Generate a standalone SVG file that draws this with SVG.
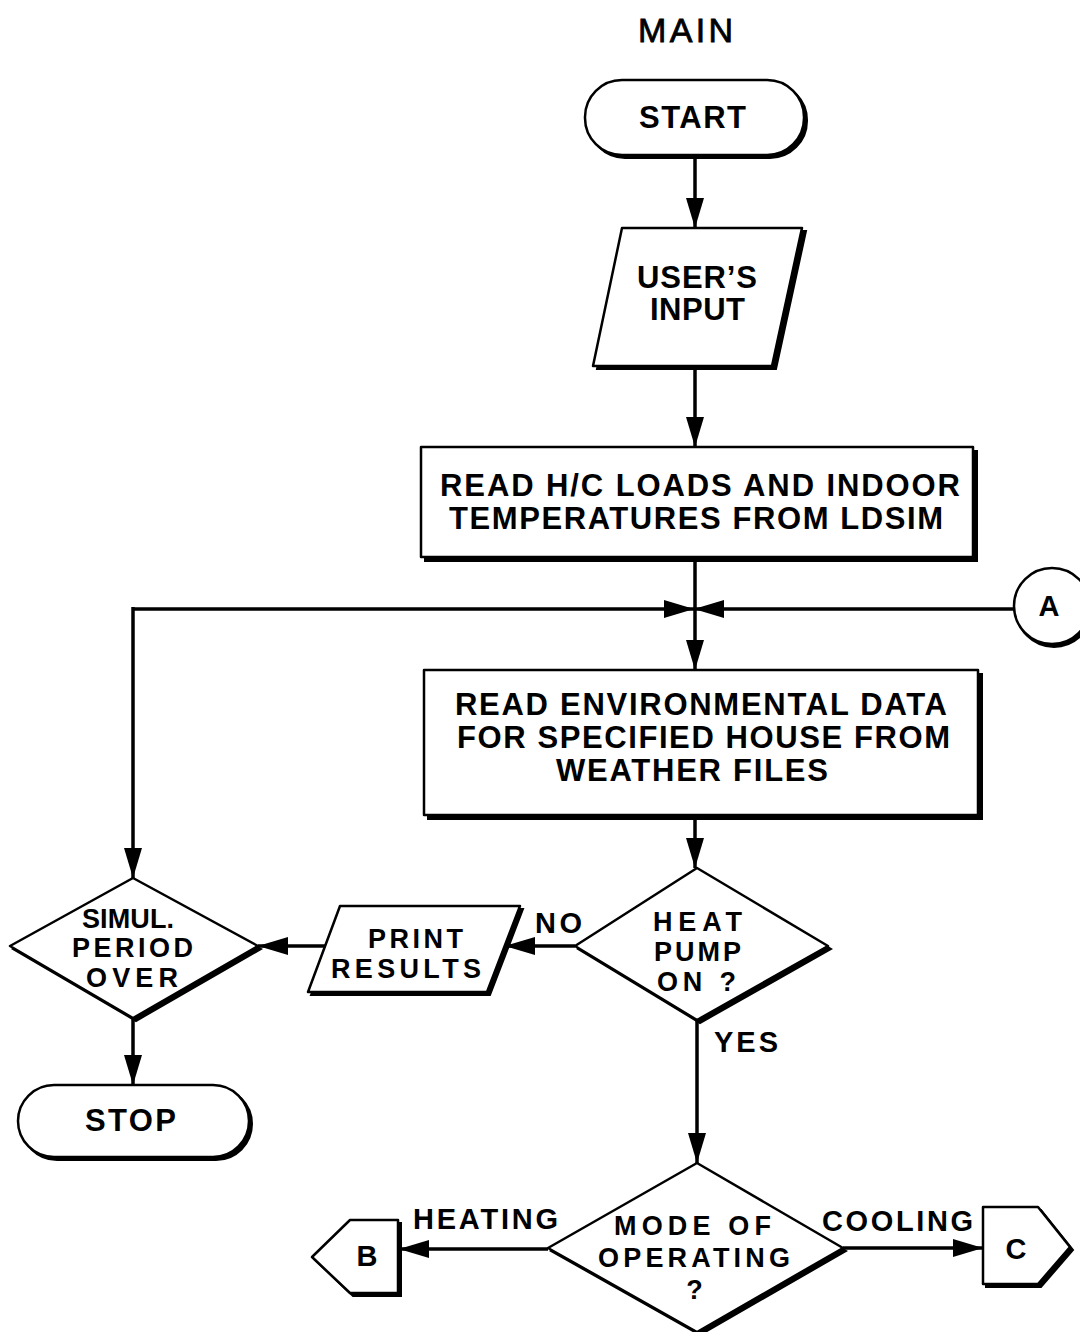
<svg xmlns="http://www.w3.org/2000/svg" width="1080" height="1332" viewBox="0 0 1080 1332">
<style>
  .bg{fill:#ffffff}
  .sh{fill:#000000;stroke:#000000;stroke-width:2}
  .nd{fill:#ffffff;stroke:#000000;stroke-width:2.5;stroke-linejoin:round}
  .ln{fill:none;stroke:#000000;stroke-width:3.5}
  .tx{font-family:"Liberation Sans",Arial,Helvetica,sans-serif;font-size:31px;font-weight:bold;fill:#000000;text-anchor:middle}
  .sm{font-family:"Liberation Sans",Arial,Helvetica,sans-serif;font-size:27px;font-weight:bold;fill:#000000;text-anchor:middle}
  .lb{font-family:"Liberation Sans",Arial,Helvetica,sans-serif;font-size:29px;font-weight:bold;fill:#000000;text-anchor:middle}
  .ti{font-family:"Liberation Sans",Arial,Helvetica,sans-serif;font-size:34px;font-weight:normal;fill:#000000;stroke:#000000;stroke-width:0.8;text-anchor:middle}
</style>
<defs>
  <marker id="ah" markerUnits="userSpaceOnUse" markerWidth="30" markerHeight="18" refX="30" refY="9" orient="auto">
    <path d="M0,0 L30,9 L0,18 Z" fill="#000000"/>
  </marker>
</defs>
<rect class="bg" x="0" y="0" width="1080" height="1332"/>

<text class="ti" x="685.5" y="42" textLength="95" lengthAdjust="spacing">MAIN</text>

<g id="connectors">
  <line class="ln" x1="695" y1="157" x2="695" y2="228" marker-end="url(#ah)"/>
  <line class="ln" x1="695" y1="366" x2="695" y2="447" marker-end="url(#ah)"/>
  <line class="ln" x1="695" y1="557" x2="695" y2="670" marker-end="url(#ah)"/>
  <line class="ln" x1="133" y1="609" x2="694" y2="609" marker-end="url(#ah)"/>
  <line class="ln" x1="1014" y1="609" x2="694" y2="609" marker-end="url(#ah)"/>
  <line class="ln" x1="133" y1="607" x2="133" y2="878" marker-end="url(#ah)"/>
  <line class="ln" x1="695" y1="815" x2="695" y2="868" marker-end="url(#ah)"/>
  <line class="ln" x1="575" y1="946" x2="505" y2="946" marker-end="url(#ah)"/>
  <line class="ln" x1="325" y1="946" x2="258" y2="946" marker-end="url(#ah)"/>
  <line class="ln" x1="133" y1="1018" x2="133" y2="1085" marker-end="url(#ah)"/>
  <line class="ln" x1="697" y1="1020" x2="697" y2="1163" marker-end="url(#ah)"/>
  <line class="ln" x1="548" y1="1249" x2="399" y2="1249" marker-end="url(#ah)"/>
  <line class="ln" x1="843" y1="1248" x2="983" y2="1248" marker-end="url(#ah)"/>
</g>

<g id="start">
  <rect class="sh" x="588" y="83" width="219" height="75" rx="37"/>
  <rect class="nd" x="585" y="80" width="219" height="75" rx="37"/>
  <text class="tx" x="692.5" y="128" textLength="107" lengthAdjust="spacing">START</text>
</g>

<g id="user-input">
  <polygon class="sh" points="626,231 806,231 776,369 597,369"/>
  <polygon class="nd" points="622,228 802,228 772,366 593,366"/>
  <text class="tx" x="697" y="288" textLength="120" lengthAdjust="spacing">USER’S</text>
  <text class="tx" x="697.5" y="320" textLength="95" lengthAdjust="spacing">INPUT</text>
</g>

<g id="read-loads">
  <rect class="sh" x="425" y="451" width="552" height="110"/>
  <rect class="nd" x="421" y="447" width="552" height="110"/>
  <text class="tx" x="700" y="496" textLength="520" lengthAdjust="spacing">READ H/C LOADS AND INDOOR</text>
  <text class="tx" x="696" y="529" textLength="494" lengthAdjust="spacing">TEMPERATURES FROM LDSIM</text>
</g>

<g id="connector-a">
  <circle class="sh" cx="1054" cy="609" r="38"/>
  <circle class="nd" cx="1052" cy="606" r="38"/>
  <text class="lb" x="1049" y="616" font-size="27">A</text>
</g>

<g id="read-environment">
  <rect class="sh" x="428" y="674" width="554" height="145"/>
  <rect class="nd" x="424" y="670" width="554" height="145"/>
  <text class="tx" x="701" y="715" textLength="492" lengthAdjust="spacing">READ ENVIRONMENTAL DATA</text>
  <text class="tx" x="703.5" y="748" textLength="493" lengthAdjust="spacing">FOR SPECIFIED HOUSE FROM</text>
  <text class="tx" x="692" y="781" textLength="272" lengthAdjust="spacing">WEATHER FILES</text>
</g>

<g id="heat-pump">
  <polygon class="sh" points="700,871 831,949 700,1023 578,949"/>
  <polygon class="nd" points="697,868 828,946 697,1020 575,946"/>
  <text class="sm" x="697.5" y="931" textLength="89" lengthAdjust="spacing">HEAT</text>
  <text class="sm" x="697.5" y="961" textLength="87" lengthAdjust="spacing">PUMP</text>
  <text class="sm" x="696.5" y="991" textLength="79" lengthAdjust="spacing">ON ?</text>
</g>
<text class="lb" x="558.5" y="933" textLength="47" lengthAdjust="spacing">NO</text>
<text class="lb" x="746" y="1052" textLength="64" lengthAdjust="spacing">YES</text>

<g id="print-results">
  <polygon class="sh" points="343,909 523,909 490,995 311,995"/>
  <polygon class="nd" points="340,906 520,906 487,992 308,992"/>
  <text class="sm" x="415.5" y="948" textLength="95" lengthAdjust="spacing">PRINT</text>
  <text class="sm" x="406" y="978" textLength="150" lengthAdjust="spacing">RESULTS</text>
</g>

<g id="simul-period">
  <polygon class="sh" points="136,881 261,949 136,1021 13,949"/>
  <polygon class="nd" points="133,878 258,946 133,1018 10,946"/>
  <text class="sm" x="128" y="928" textLength="92" lengthAdjust="spacing">SIMUL.</text>
  <text class="sm" x="132.5" y="957" textLength="121" lengthAdjust="spacing">PERIOD</text>
  <text class="sm" x="132" y="987" textLength="92" lengthAdjust="spacing">OVER</text>
</g>

<g id="stop">
  <rect class="sh" x="21" y="1088" width="231" height="72" rx="36"/>
  <rect class="nd" x="18" y="1085" width="231" height="72" rx="36"/>
  <text class="tx" x="130.5" y="1131" textLength="91" lengthAdjust="spacing">STOP</text>
</g>

<g id="mode">
  <polygon class="sh" points="700,1166 846,1251 700,1335 551,1251"/>
  <polygon class="nd" points="697,1163 843,1248 697,1332 548,1248"/>
  <text class="sm" x="692.5" y="1235" textLength="157" lengthAdjust="spacing">MODE OF</text>
  <text class="sm" x="694" y="1267" textLength="192" lengthAdjust="spacing">OPERATING</text>
  <text class="sm" x="694.5" y="1299">?</text>
</g>
<text class="lb" x="485.5" y="1229" textLength="145" lengthAdjust="spacing">HEATING</text>
<text class="lb" x="897.5" y="1231" textLength="151" lengthAdjust="spacing">COOLING</text>

<g id="connector-b">
  <polygon class="sh" points="315,1260 353,1223 401,1223 401,1296 353,1296"/>
  <polygon class="nd" points="312,1257 350,1220 398,1220 398,1293 350,1293"/>
  <text class="lb" x="367" y="1266" font-size="27">B</text>
</g>

<g id="connector-c">
  <polygon class="sh" points="986,1210 1041,1210 1073,1250 1041,1287 986,1287"/>
  <polygon class="nd" points="983,1207 1038,1207 1070,1247 1038,1284 983,1284"/>
  <text class="lb" x="1016" y="1259" font-size="27">C</text>
</g>
</svg>
